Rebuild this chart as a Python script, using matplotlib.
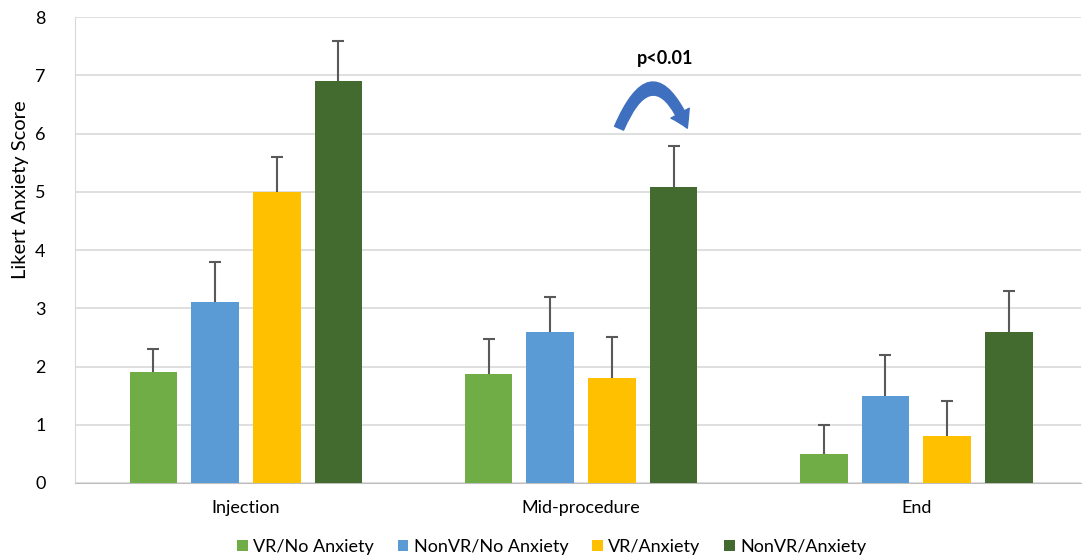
import numpy as np
import matplotlib
matplotlib.use("Agg")
import matplotlib.pyplot as plt
from matplotlib.patches import FancyArrowPatch

phases = ["Injection", "Mid-procedure", "End"]
groups = ["VR/No Anxiety", "NonVR/No Anxiety", "VR/Anxiety", "NonVR/Anxiety"]
colors = ["#70AD47", "#5B9BD5", "#FFC000", "#436B2F"]

vr_no_anx = [1.9, 1.87, 0.5]
nonvr_no_anx = [3.1, 2.6, 1.5]
vr_anx = [5.0, 1.8, 0.8]
nonvr_anx = [6.9, 5.08, 2.6]

vr_no_anx_err = [0.4, 0.6, 0.5]
nonvr_no_anx_err = [0.7, 0.6, 0.7]
vr_anx_err = [0.6, 0.7, 0.6]
nonvr_anx_err = [0.7, 0.7, 0.7]

series = [vr_no_anx, nonvr_no_anx, vr_anx, nonvr_anx]
errors = [vr_no_anx_err, nonvr_no_anx_err, vr_anx_err, nonvr_anx_err]

plt.rcParams["font.family"] = ["Lato", "DejaVu Sans"]

fig = plt.figure(figsize=(10.86, 5.57), dpi=100)
ax = fig.add_axes([0.069, 0.133, 0.926, 0.836])

x = np.arange(len(phases))
step = 0.184
width = 0.142
for i, (vals, errs, col, name) in enumerate(zip(series, errors, colors, groups)):
    pos = x + (i - 1.5) * step
    vals = np.array(vals)
    errs = np.array(errs)
    ax.bar(pos, vals, width=width, color=col, label=name, zorder=3)
    # upper-only error bars with a cap at the top end
    ax.vlines(pos, vals, vals + errs, color="#595959", lw=1.5, zorder=4)
    ax.plot(pos, vals + errs, ls="none", marker="_", ms=8, mew=1.5,
            color="#595959", zorder=4)

ax.set_xlim(-0.51, 2.49)
ax.set_ylim(0, 8)
ax.set_yticks(range(0, 9))
ax.set_xticks(x)
ax.set_xticklabels(phases, fontsize=13)
ax.tick_params(axis="y", labelsize=13, length=0, pad=25)
ax.tick_params(axis="x", length=0, pad=12)
for lbl in ax.get_yticklabels():
    lbl.set_horizontalalignment("center")
ax.set_ylabel("Likert Anxiety Score", fontsize=14.5)
ax.yaxis.set_label_coords(-0.046, 0.63)
ax.grid(axis="y", color="#D9D9D9", lw=1.2, zorder=0)
for s in ["top", "right"]:
    ax.spines[s].set_visible(False)
ax.spines["left"].set_color("#D9D9D9")
ax.spines["bottom"].set_color("#BFBFBF")

# significance arrow over mid-procedure
arrow = FancyArrowPatch((1.11, 6.05), (1.32, 6.05),
                        connectionstyle="arc3,rad=-1.2",
                        arrowstyle="simple,head_width=15,head_length=12,tail_width=7",
                        color="#3F6FBF", zorder=5)
ax.add_patch(arrow)
ax.text(1.25, 7.3, "p<0.01", ha="center", va="center", fontsize=13, fontweight="bold")

fig.legend(loc="lower center", ncol=4, frameon=False, fontsize=13,
           bbox_to_anchor=(0.508, -0.025), handlelength=0.6, handleheight=0.6,
           handletextpad=0.3, columnspacing=1.3)

fig.savefig("out.png", dpi=100)
